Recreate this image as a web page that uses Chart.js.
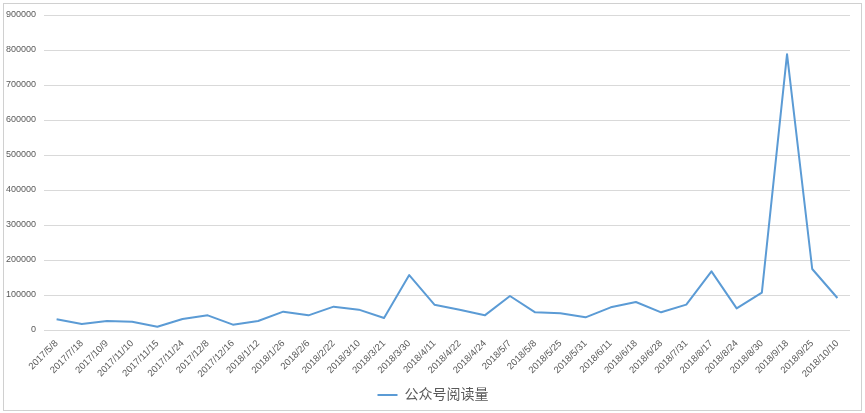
<!DOCTYPE html>
<html>
<head>
<meta charset="utf-8">
<script src="https://cdn.jsdelivr.net/npm/chart.js@4"></script>
<style>
    html, body { margin: 0; padding: 0; background: #ffffff; }
    #wrap { width: 865px; height: 413px; position: relative; }
</style>
</head>
<body>
<div id="wrap"><canvas id="reads-chart" width="865" height="413"></canvas></div>
<script>
const postDates = [
    '2017/5/8', '2017/7/18', '2017/10/9', '2017/11/10', '2017/11/15', '2017/11/24',
    '2017/12/8', '2017/12/16', '2018/1/12', '2018/1/26', '2018/2/6', '2018/2/22',
    '2018/3/10', '2018/3/21', '2018/3/30', '2018/4/11', '2018/4/22', '2018/4/24',
    '2018/5/7', '2018/5/8', '2018/5/25', '2018/5/31', '2018/6/11', '2018/6/18',
    '2018/6/28', '2018/7/31', '2018/8/17', '2018/8/24', '2018/8/30', '2018/9/18',
    '2018/9/25', '2018/10/10'
];
const readCounts = [
    30500, 17000, 25700, 23800, 9500, 31400,
    41900, 15200, 25700, 52400, 41900, 66700,
    58100, 34300, 157000, 72400, 58100, 41900,
    97100, 50500, 47600, 36200, 64800, 80000,
    50500, 72400, 167600, 61900, 106700, 788000,
    174300, 91400
];
const seriesName = '公众号阅读量';
const yTicks = [0, 100000, 200000, 300000, 400000, 500000, 600000, 700000, 800000, 900000];

const fontFamily = '"Liberation Sans", "Noto Sans CJK SC", sans-serif';
const textColor = '#595959';

// light frame around the chart, like the office chart box
const framePlugin = {
    id: 'frame',
    afterLayout(chart) {
        // legend in the original sits a little right of centre
        chart.legend.left += 8;
        chart.legend.right += 8;
    },
    beforeDraw(chart) {
        let ctx = chart.ctx;
        ctx.save();
        ctx.strokeStyle = '#d0d0d0';
        ctx.lineWidth = 1;
        ctx.strokeRect(3.5, 3.5, 858, 407);
        ctx.restore();
    }
};

new Chart(document.getElementById('reads-chart'), {
    type: 'line',
    data: {
        labels: postDates,
        datasets: [
            {
                label: seriesName,
                data: readCounts,
                borderColor: '#5b9bd5',
                backgroundColor: '#5b9bd5',
                borderWidth: 2,
                borderJoinStyle: 'round',
                pointRadius: 0,
                tension: 0
            }
        ]
    },
    options: {
        responsive: false,
        animation: false,
        layout: {
            padding: { top: 15, right: 15, left: 0, bottom: 1 }
        },
        scales: {
            x: {
                offset: true,
                grid: { display: false },
                border: { display: false },
                ticks: {
                    autoSkip: false,
                    maxRotation: 45,
                    minRotation: 45,
                    padding: 0,
                    color: textColor,
                    font: { family: fontFamily, size: 9.5 }
                },
                afterFit(axis) {
                    axis.height = 48;
                }
            },
            y: {
                min: 0,
                max: 900000,
                afterBuildTicks(axis) {
                    axis.ticks = yTicks.map(v => ({ value: v }));
                },
                grid: { color: '#d9d9d9', lineWidth: 1, drawTicks: false },
                border: { display: false },
                ticks: {
                    padding: 8,
                    color: textColor,
                    font: { family: fontFamily, size: 9 },
                    callback: function(value) {
                        return String(value);
                    }
                },
                afterFit(axis) {
                    axis.width = 44;
                }
            }
        },
        plugins: {
            legend: {
                position: 'bottom',
                labels: {
                    usePointStyle: true,
                    pointStyle: 'line',
                    pointStyleWidth: 20,
                    padding: 10,
                    color: textColor,
                    font: { family: fontFamily, size: 14 }
                }
            },
            tooltip: { enabled: false }
        }
    },
    plugins: [framePlugin]
});
</script>
</body>
</html>
